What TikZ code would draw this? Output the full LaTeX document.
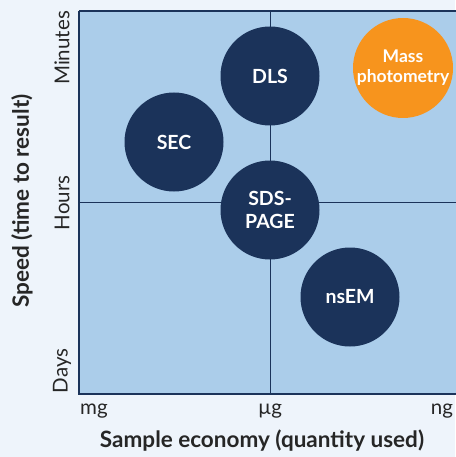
\documentclass[tikz,border=0pt]{standalone}
\usepackage{fontspec}
\setmainfont{Lato}
\definecolor{bgc}{HTML}{EEF4FB}
\definecolor{plotc}{HTML}{ABCDEA}
\definecolor{navy}{HTML}{1B335A}
\definecolor{orangec}{HTML}{F7941D}
\begin{document}
\begin{tikzpicture}[x=1pt,y=-1pt,
  bubble/.style={circle,fill=navy,minimum size=99pt,inner sep=0pt,text=white,font=\fontsize{19.5}{23}\selectfont\bfseries,align=center},
  obubble/.style={circle,fill=orangec,minimum size=100pt,inner sep=0pt,text=white,font=\fontsize{17.5}{20}\selectfont\bfseries,align=center},
  tick/.style={font=\fontsize{20.5}{23}\selectfont,text=black!85},
  axtitle/.style={font=\fontsize{22.5}{25}\selectfont\bfseries,text=black!85}]
\fill[bgc] (0,0) rectangle (455,457);
\useasboundingbox (0,0) rectangle (455,457);
\fill[plotc] (79,11) rectangle (460,394);
\draw[navy,line width=1.2pt] (79,11) -- (460,11);
\draw[navy,line width=1.2pt] (79,11) -- (79,394) -- (460,394);
\coordinate (vt) at (270,11);
\coordinate (vb) at (270,394);
\coordinate (hl) at (79,202);
\coordinate (hr) at (460,202);
\draw[navy,line width=1pt] (vt) -- (vb);
\draw[navy,line width=1pt] (hl) -- (hr);
\node[bubble] (dls) at (270,76) {DLS};
\node[bubble] (sec) at (174,142) {SEC};
\node[bubble] (sds) at (270,210) {SDS-\\PAGE};
\node[bubble] (nsem) at (350,297) {nsEM};
\node[obubble] (mp) at (403,68) {Mass\\photometry};
\node[tick,rotate=90] (tmin) at (62,48) {Minutes};
\node[tick,rotate=90] (thr) at (62,203) {Hours};
\node[tick,rotate=90] (tday) at (62,371) {Days};
\node[tick] (tmg) at (94,411) {mg};
\node[tick] (tug) at (270,411) {µg};
\node[tick] (tng) at (442,411) {ng};
\node[axtitle,rotate=90] (ytitle) at (22,201) {Speed (time to result)};
\node[axtitle] (xtitle) at (262,441) {Sample economy (quantity used)};
\end{tikzpicture}
\end{document}
